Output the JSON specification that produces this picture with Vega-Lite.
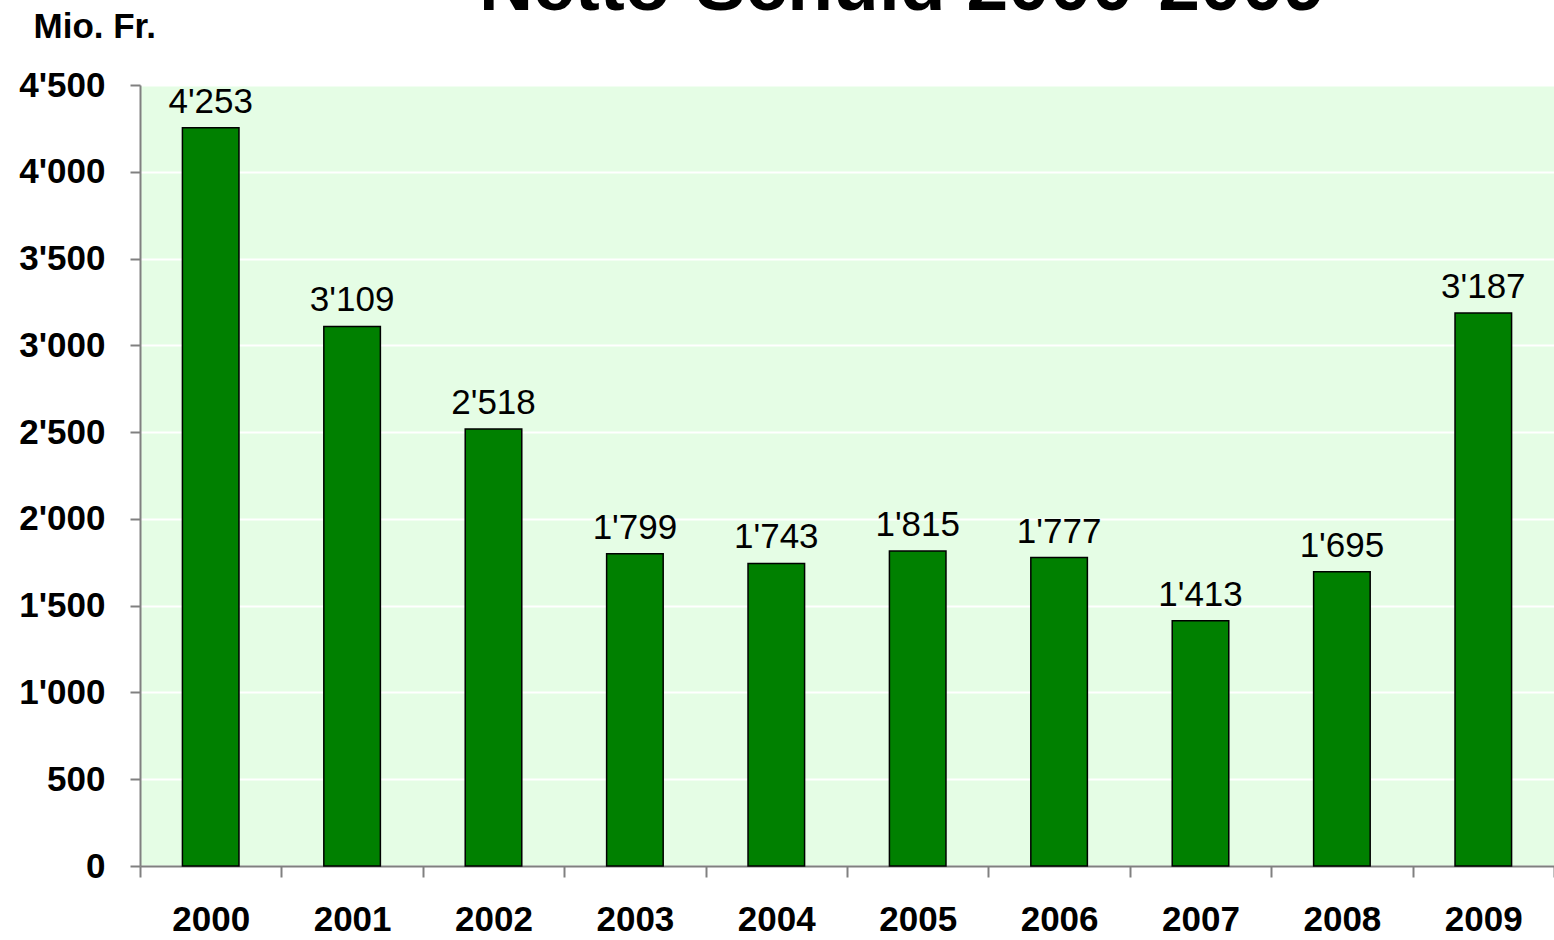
{
  "$schema": "https://vega.github.io/schema/vega-lite/v6.json",
  "width": 1414,
  "height": 781,
  "autosize": {"type": "none"},
  "padding": {"left": 140, "top": 85, "right": 0, "bottom": 74},
  "background": "white",
  "title": {
    "text": "Netto-Schuld 2000-2009",
    "fontSize": 75,
    "font": "Liberation Sans",
    "fontWeight": "bold",
    "color": "black",
    "anchor": "middle",
    "dx": 55,
    "dy": 17,
    "offset": 0
  },
  "data": {
    "values": [
      {"jahr": "2000", "wert": 4253},
      {"jahr": "2001", "wert": 3109},
      {"jahr": "2002", "wert": 2518},
      {"jahr": "2003", "wert": 1799},
      {"jahr": "2004", "wert": 1743},
      {"jahr": "2005", "wert": 1815},
      {"jahr": "2006", "wert": 1777},
      {"jahr": "2007", "wert": 1413},
      {"jahr": "2008", "wert": 1695},
      {"jahr": "2009", "wert": 3187}
    ]
  },
  "encoding": {
    "x": {
      "field": "jahr",
      "type": "ordinal",
      "scale": {"paddingInner": 0, "paddingOuter": 0},
      "axis": {
        "title": null,
        "labelAngle": 0,
        "labelFont": "Liberation Sans",
        "labelFontSize": 35,
        "labelFontWeight": "bold",
        "labelColor": "black",
        "labelPadding": 25,
        "tickBand": "extent",
        "tickSize": 11,
        "tickColor": "#808080",
        "tickWidth": 2,
        "domainColor": "#808080",
        "domainWidth": 2
      }
    },
    "y": {
      "field": "wert",
      "type": "quantitative",
      "scale": {"domain": [0, 4500], "nice": false},
      "axis": {
        "values": [0, 500, 1000, 1500, 2000, 2500, 3000, 3500, 4000, 4500],
        "format": ",d",
        "title": "Mio. Fr.",
        "titleAngle": 0,
        "titleAlign": "left",
        "titleBaseline": "alphabetic",
        "titleX": -107,
        "titleY": -48,
        "titleFont": "Liberation Sans",
        "titleFontSize": 35,
        "titleFontWeight": "bold",
        "titleColor": "black",
        "labelFont": "Liberation Sans",
        "labelFontSize": 35,
        "labelFontWeight": "bold",
        "labelColor": "black",
        "labelPadding": 25,
        "tickSize": 10,
        "tickColor": "#808080",
        "tickWidth": 2,
        "domainColor": "#808080",
        "domainWidth": 2,
        "grid": true,
        "gridColor": "white",
        "gridWidth": 2
      }
    }
  },
  "layer": [
    {
      "mark": {"type": "bar", "color": "#008000", "stroke": "black", "strokeWidth": 1.5, "width": {"band": 0.4}}
    },
    {
      "mark": {
        "type": "text",
        "baseline": "alphabetic",
        "dy": -15,
        "font": "Liberation Sans",
        "fontSize": 35,
        "color": "black"
      },
      "encoding": {
        "text": {"field": "wert", "type": "quantitative", "format": ",d"}
      }
    }
  ],
  "config": {
    "locale": {
      "number": {"decimal": ".", "thousands": "'", "grouping": [3], "currency": ["", " Fr."]}
    },
    "view": {"fill": "#E5FDE5", "stroke": null}
  }
}
